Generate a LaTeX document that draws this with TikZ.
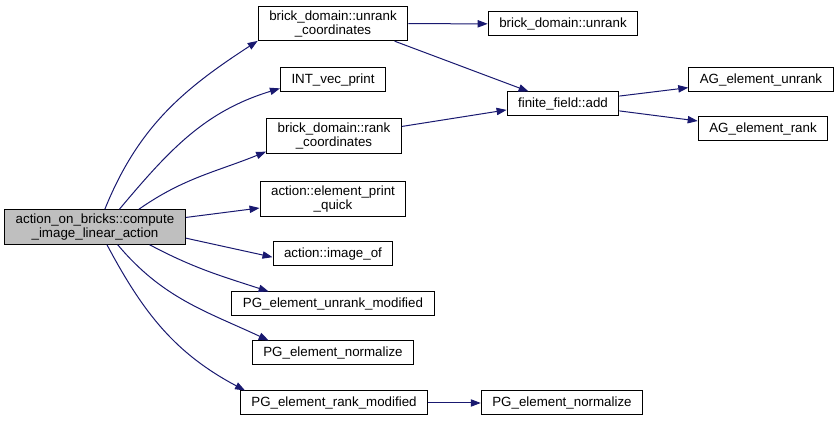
\documentclass[tikz,border=0pt]{standalone}
\usepackage{fontspec}
\setmainfont{Liberation Sans}
\usetikzlibrary{arrows.meta}
\definecolor{callblue}{HTML}{191970}

\begin{document}
\begin{tikzpicture}[x=0.75pt,y=0.75pt,>={Triangle[length=7.5pt,width=5.5pt]},
  fn/.style={draw,line width=0.75pt,align=center,font=\fontsize{10}{10.5}\selectfont,
    inner xsep=8.3pt,inner ysep=3pt,minimum height=18pt},
  call/.style={->,draw=callblue,line width=0.75pt}]
\useasboundingbox (0,0) rectangle (840,421);
% caller
\node[fn,fill=gray!50] (main) at (95,194) {action\_on\_bricks::compute\\\_image\_linear\_action};
% first level
\node[fn] (bduc) at (333,397.5) {brick\_domain::unrank\\\_coordinates};
\node[fn] (ivp) at (333,341) {INT\_vec\_print};
\node[fn] (bdrc) at (334,285) {brick\_domain::rank\\\_coordinates};
\node[fn] (epq) at (333,222) {action::element\_print\\\_quick};
\node[fn] (imgof) at (333,167) {action::image\_of};
\node[fn] (pgum) at (333,117) {PG\_element\_unrank\_modified};
\node[fn] (pgn) at (333,68) {PG\_element\_normalize};
\node[fn] (pgrm) at (334,18) {PG\_element\_rank\_modified};
% second level
\node[fn] (bdu) at (563,397) {brick\_domain::unrank};
\node[fn] (ffadd) at (563,317) {finite\_field::add};
\node[fn] (pgn2) at (562,18) {PG\_element\_normalize};
% third level
\node[fn] (agu) at (761,341) {AG\_element\_unrank};
\node[fn] (agr) at (763,292) {AG\_element\_rank};

\draw[call] (main.61) to[out=68,in=213] (bduc.193);
\draw[call] (main.36) to[out=50,in=197] (ivp.189);
\draw[call] (main.22) to[out=35,in=202] (bdrc.193);
\draw[call] (main.6) -- (epq.187);
\draw[call] (main.-7) -- (imgof.183);
\draw[call] (main.-18) to[out=-28,in=162] (pgum.169);
\draw[call] (main.-38) to[out=-50,in=155] (pgn.169);
\draw[call] (main.-56) to[out=-62,in=152] (pgrm.172);
\draw[call] (bduc) -- (bdu);
\draw[call] (bduc.-16) -- (ffadd.160);
\draw[call] (bdrc.8) -- (ffadd.186);
\draw[call] (ffadd.8) -- (agu.186);
\draw[call] (ffadd.-7) -- (agr.173);
\draw[call] (pgrm) -- (pgn2);
\end{tikzpicture}
\end{document}
